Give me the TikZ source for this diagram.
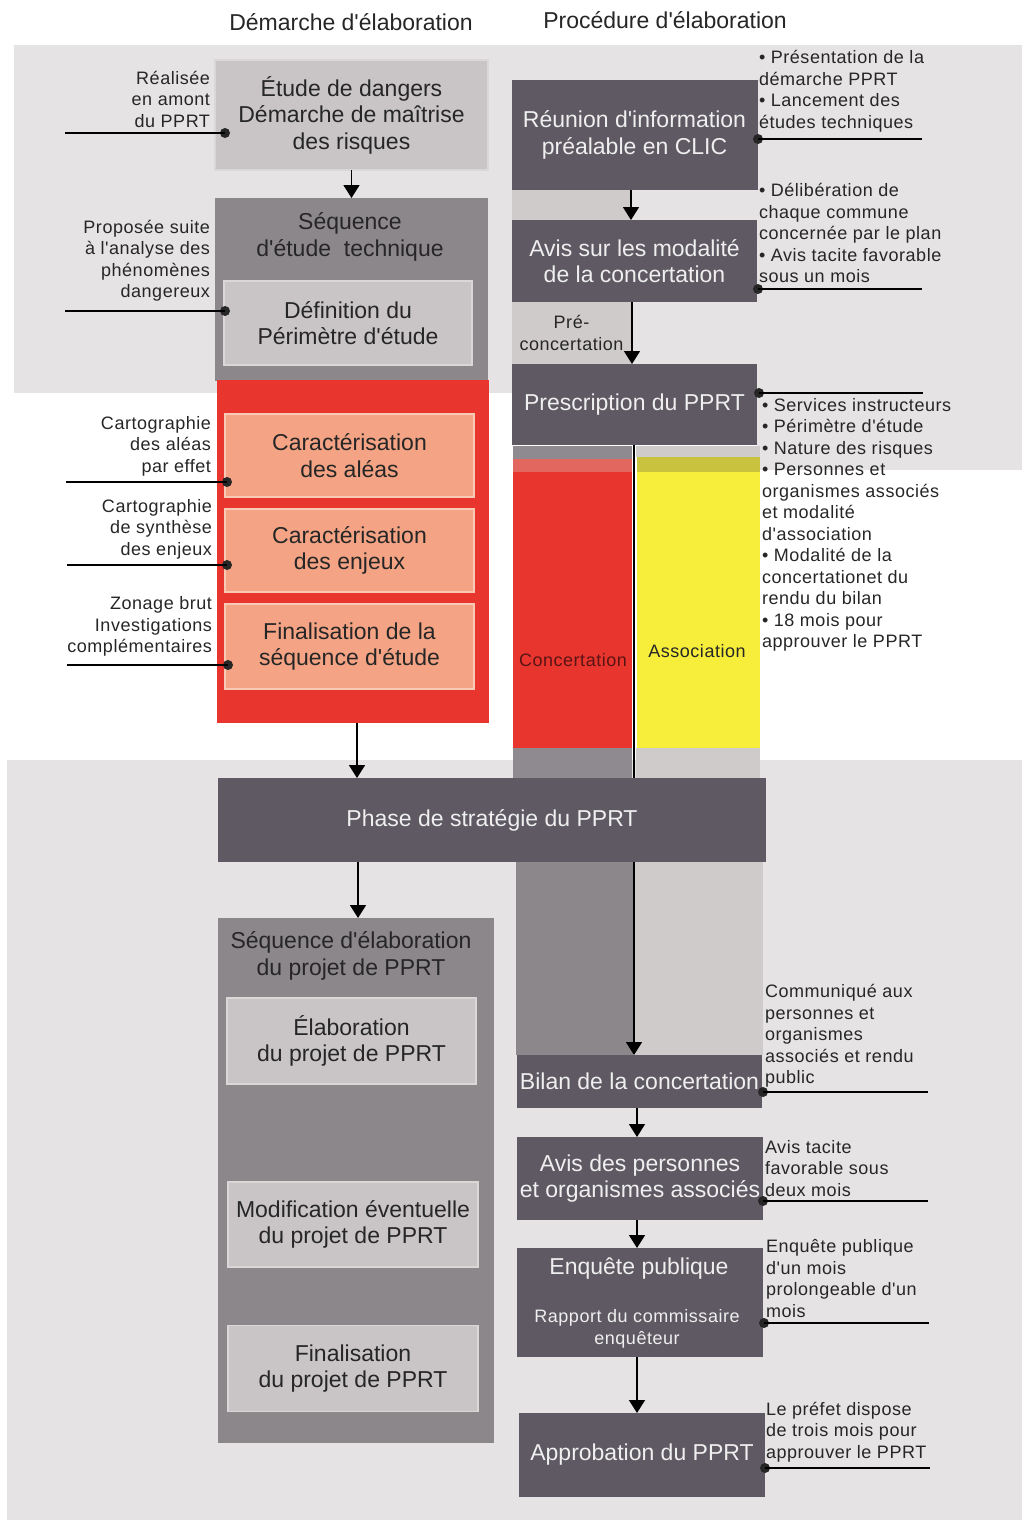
\documentclass[tikz,border=0pt]{standalone}
\usepackage{fontspec}
\setmainfont{Liberation Sans}
\newfontfamily\bigf{Liberation Sans}
\newfontfamily\lsp[LetterSpace=3]{Liberation Sans}
\usetikzlibrary{arrows.meta}
\definecolor{bgband}{HTML}{E5E3E3}
\definecolor{lightbox}{HTML}{C9C5C6}
\definecolor{lightedge}{HTML}{DAD7D7}
\definecolor{midbox}{HTML}{8C878B}
\definecolor{darkbox}{HTML}{5E5963}
\definecolor{redblk}{HTML}{E8362F}
\definecolor{salmon}{HTML}{F4A484}
\definecolor{salmonedge}{HTML}{F8C9B4}
\definecolor{yellowblk}{HTML}{F6EE3A}
\definecolor{olive}{HTML}{C9C23E}
\definecolor{pinkstrip}{HTML}{E2675E}
\definecolor{graystrip}{HTML}{8F8A8F}
\definecolor{palestrip}{HTML}{CFCBCB}
\definecolor{darkred}{HTML}{5A1414}
\definecolor{textdark}{HTML}{262626}
\definecolor{textlight}{HTML}{EFEFEF}
\begin{document}
\begin{tikzpicture}[x=1pt,y=-1pt,
  every node/.style={inner sep=0pt, outer sep=0pt},
  bigtxt/.style={font=\bigf\fontsize{23}{26.5}\selectfont, align=center},
  smalltxt/.style={font=\lsp\fontsize{18}{21.5}\selectfont},
  lbox/.style={fill=lightbox, draw=lightedge, line width=1.2pt, bigtxt, text=textdark},
  dbox/.style={fill=darkbox, bigtxt, text=textlight},
  sbox/.style={fill=salmon, draw=salmonedge, line width=1.2pt, bigtxt, text=textdark},
  arr/.style={line width=1.6pt, -{Triangle[length=13pt,width=16pt]}},
  annline/.style={line width=1.2pt},
  dot/.style={circle, fill=black!85, minimum size=10pt},
  lnote/.style={smalltxt, align=right, anchor=east, text=textdark},
  rnote/.style={smalltxt, align=left, anchor=west, text=textdark},
]
\useasboundingbox (0,0) rectangle (1022,1520);
% background bands
\fill[bgband] (14,45) rectangle (1022,393);
\fill[bgband] (757,393) rectangle (1022,470);
\fill[bgband] (7,760) rectangle (1022,1520);

% headers
\node[bigtxt, text=textdark] (h1) at (351,22) {Démarche d'élaboration};
\node[bigtxt, text=textdark] (h2) at (665,20) {Procédure d'élaboration};

% ---------- left column ----------
\node[lbox, minimum width=273pt, minimum height=110pt] (etude) at (351.5,115) {Étude de dangers\\Démarche de maîtrise\\des risques};
\node[fill=midbox, minimum width=273pt, minimum height=183pt] (seqtech) at (351.5,289.5) {};
\node[bigtxt, text=textdark] (seqtechT) at (350,237) {Séquence\\d'étude~ technique};
\node[lbox, minimum width=248pt, minimum height=84pt] (defin) at (348,323) {Définition du\\Périmètre d'étude};
\node[fill=redblk, minimum width=272pt, minimum height=343pt] (redb) at (353,551.5) {};
\node[sbox, minimum width=249pt, minimum height=83pt] (aleas) at (349.5,455.5) {Caractérisation\\des aléas};
\node[sbox, minimum width=249pt, minimum height=83pt] (enjeux) at (349.5,550.5) {Caractérisation\\des enjeux};
\node[sbox, minimum width=249pt, minimum height=85pt] (finseq) at (349.5,646.5) {Finalisation de la\\séquence d'étude};

\node[fill=midbox, minimum width=276pt, minimum height=525pt] (seqelab) at (356,1180.5) {};
\node[bigtxt, text=textdark] (seqelabT) at (351,956) {Séquence d'élaboration\\du projet de PPRT};
\node[lbox, minimum width=249pt, minimum height=86pt] (elab) at (351.5,1041) {Élaboration\\du projet de PPRT};
\node[lbox, minimum width=250pt, minimum height=85pt] (modif) at (353,1224.5) {Modification éventuelle\\du projet de PPRT};
\node[lbox, minimum width=250pt, minimum height=86pt] (finproj) at (353,1368.5) {Finalisation\\du projet de PPRT};

% left notes
\node[lnote] (n1) at (210,99) {Réalisée\\en amont\\du PPRT};
\node[dot] (d1) at (225,133) {};
\coordinate (e1) at (65,133);
\draw[annline] (e1) -- (d1.center);
\node[lnote] (n2) at (210,260.5) {Proposée suite\\à l'analyse des\\phénomènes\\dangereux};
\node[dot] (d2) at (225,311) {};
\coordinate (e2) at (65,311);
\draw[annline] (e2) -- (d2.center);
\node[lnote] (n3) at (211,446) {Cartographie\\des aléas\\par effet};
\node[dot] (d3) at (227,482) {};
\coordinate (e3) at (66,482);
\draw[annline] (e3) -- (d3.center);
\node[lnote] (n4) at (212,529) {Cartographie\\de synthèse\\des enjeux};
\node[dot] (d4) at (227,565) {};
\coordinate (e4) at (67,565);
\draw[annline] (e4) -- (d4.center);
\node[lnote] (n5) at (212,626.5) {Zonage brut\\Investigations\\complémentaires};
\node[dot] (d5) at (228,665) {};
\coordinate (e5) at (67,665);
\draw[annline] (e5) -- (d5.center);

% ---------- right column ----------
\node[dbox, minimum width=246pt, minimum height=110pt] (reunion) at (634.5,135) {Réunion d'information\\préalable en CLIC};
\node[fill=palestrip, minimum width=118pt, minimum height=30pt] (strip1) at (571,205) {};
\node[dbox, minimum width=245pt, minimum height=82pt] (avis) at (634.5,261) {Avis sur les modalité\\de la concertation};
\node[fill=palestrip, minimum width=119pt, minimum height=62pt, smalltxt, align=center, text=textdark] (strip2) at (571.5,333) {Pré-\\concertation};
\node[dbox, minimum width=245pt, minimum height=81pt] (presc) at (634.5,404.5) {Prescription du PPRT};

\node[fill=redblk, minimum width=119pt, minimum height=301pt] (concert) at (572.5,597.5) {};
\fill[graystrip] (513,446) rectangle (632,459);
\fill[pinkstrip] (513,459) rectangle (632,472);
\node[fill=yellowblk, minimum width=123pt, minimum height=291pt] (assoc) at (698.5,602.5) {};
\fill[palestrip] (636,446) rectangle (760,457);
\fill[olive] (637,457) rectangle (760,472);
\fill[graystrip] (513,748) rectangle (632,778);
\fill[palestrip] (636,748) rectangle (760,778);
\node[smalltxt, text=darkred] (concertT) at (573,660) {Concertation};
\node[smalltxt, text=textdark] (assocT) at (697,651) {Association};

\fill[midbox] (516,862) rectangle (633,1055);
\fill[palestrip] (633,862) rectangle (763,1055);

\node[dbox, minimum width=548pt, minimum height=84pt] (phase) at (492,820) {Phase de stratégie du PPRT};

\node[dbox, minimum width=245pt, minimum height=53pt] (bilan) at (639.5,1081.5) {Bilan de la concertation};
\node[dbox, minimum width=246pt, minimum height=83pt] (avis2) at (640,1178.5) {Avis des personnes\\et organismes associés};
\node[fill=darkbox, minimum width=246pt, minimum height=109pt] (enquete) at (640,1302.5) {};
\node[bigtxt, text=textlight] (enqT) at (639,1268) {Enquête publique};
\node[smalltxt, align=center, text=textlight] (rappT) at (637,1329) {Rapport du commissaire\\enquêteur};
\node[dbox, minimum width=246pt, minimum height=84pt] (approb) at (642,1455) {Approbation du PPRT};

% connectors
\coordinate (vline) at (633.5,0);
\draw[line width=2pt] (presc.south -| vline) -- (phase.north -| vline);
\draw[arr] (etude.south) -- (seqtech.north);
\coordinate (ax5) at (357,0);
\draw[arr] (redb.south -| ax5) -- (phase.north -| ax5);
\coordinate (ax6) at (358,0);
\draw[arr] (phase.south -| ax6) -- (seqelab.north -| ax6);
\coordinate (ax1) at (631,0);
\draw[arr] (reunion.south -| ax1) -- (avis.north -| ax1);
\coordinate (ax2) at (632,0);
\draw[arr] (avis.south -| ax2) -- (presc.north -| ax2);
\coordinate (ax3) at (634,0);
\draw[arr] (phase.south -| ax3) -- (bilan.north -| ax3);
\coordinate (ax4) at (637,0);
\draw[arr] (bilan.south -| ax4) -- (avis2.north -| ax4);
\draw[arr] (avis2.south -| ax4) -- (enquete.north -| ax4);
\draw[arr] (enquete.south -| ax4) -- (approb.north -| ax4);

% right notes
\node[rnote] (r1) at (759,91) {• Présentation de la\\démarche PPRT\\• Lancement des\\études techniques};
\node[dot] (rd1) at (758,139) {};
\coordinate (re1) at (922,139);
\draw[annline] (rd1.center) -- (re1);
\node[rnote] (r2) at (759,233) {• Délibération de\\chaque commune\\concernée par le plan\\• Avis tacite favorable\\sous un mois};
\node[dot] (rd2) at (758,289) {};
\coordinate (re2) at (922,289);
\draw[annline] (rd2.center) -- (re2);
\node[dot] (rd3) at (759,393) {};
\coordinate (re3) at (923,393);
\draw[annline] (rd3.center) -- (re3);
\node[rnote] (r3) at (762,525) {• Services instructeurs\\• Périmètre d'étude\\• Nature des risques\\• Personnes et\\organismes associés\\et modalité\\d'association\\• Modalité de la\\concertationet du\\rendu du bilan\\• 18 mois pour\\approuver le PPRT};
\node[rnote] (r4) at (765,1036) {Communiqué aux\\personnes et\\organismes\\associés et rendu\\public};
\node[dot] (rd4) at (763,1092) {};
\coordinate (re4) at (928,1092);
\draw[annline] (rd4.center) -- (re4);
\node[rnote] (r5) at (765,1168.5) {Avis tacite\\favorable sous\\deux mois};
\node[dot] (rd5) at (763,1201) {};
\coordinate (re5) at (928,1201);
\draw[annline] (rd5.center) -- (re5);
\node[rnote] (r6) at (766,1278.5) {Enquête publique\\d'un mois\\prolongeable d'un\\mois};
\node[dot] (rd6) at (764,1323) {};
\coordinate (re6) at (929,1323);
\draw[annline] (rd6.center) -- (re6);
\node[rnote] (r7) at (766,1432) {Le préfet dispose\\de trois mois pour\\approuver le PPRT};
\node[dot] (rd7) at (765,1468) {};
\coordinate (re7) at (930,1468);
\draw[annline] (rd7.center) -- (re7);
\end{tikzpicture}
\end{document}
